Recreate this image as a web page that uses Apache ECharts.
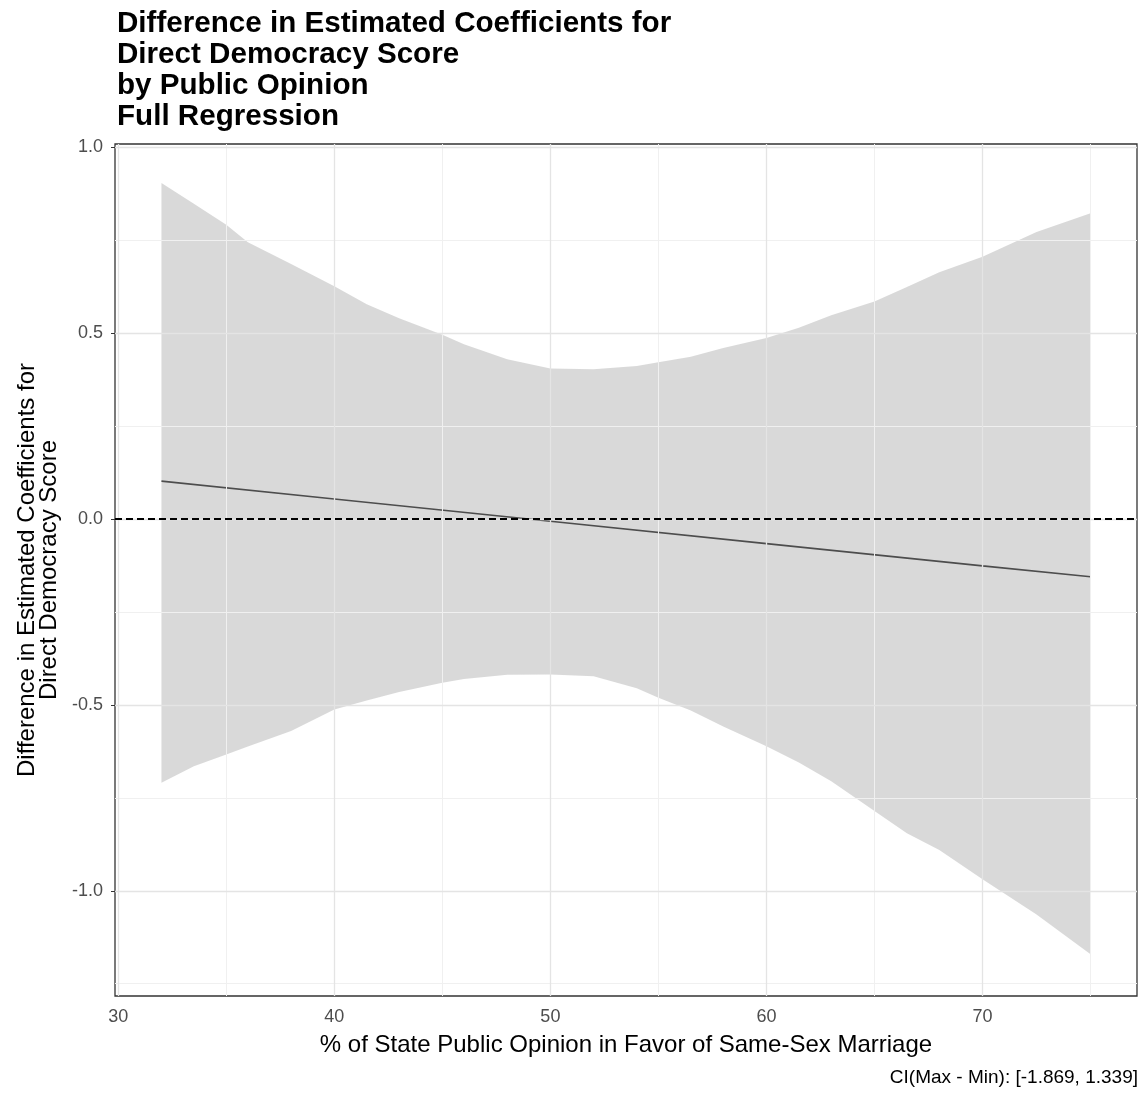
<!DOCTYPE html>
<html><head><meta charset="utf-8">
<script src="https://cdn.jsdelivr.net/npm/echarts@6/dist/echarts.min.js"></script>
<style>html,body{margin:0;padding:0;background:#fff}#c{width:1145px;height:1095px}</style>
</head><body><div id="c"></div>
<script>
// ---- data ----
const bandX   = [32, 33.5, 35, 36, 38, 40, 41.5, 43, 45, 46, 48, 50, 52, 54, 55, 56.5, 58, 60, 61.5, 63, 65, 66.5, 68, 70, 72.5, 75];
const upperCI = [0.904, 0.848, 0.792, 0.745, 0.686, 0.626, 0.578, 0.540, 0.496, 0.470, 0.430, 0.405, 0.403, 0.412, 0.422, 0.437, 0.460, 0.487, 0.515, 0.548, 0.585, 0.624, 0.664, 0.706, 0.772, 0.823];
const lowerCI = [-0.709, -0.665, -0.633, -0.612, -0.570, -0.512, -0.488, -0.465, -0.440, -0.430, -0.419, -0.418, -0.423, -0.455, -0.481, -0.515, -0.558, -0.611, -0.655, -0.705, -0.785, -0.845, -0.890, -0.969, -1.064, -1.171];
const lineX   = [32, 40, 50, 60, 70, 75];
const lineY   = [0.102, 0.054, -0.006, -0.066, -0.126, -0.155];
const refY    = 0;
const xTicks  = [30, 40, 50, 60, 70];
const xMinor  = [35, 45, 55, 65, 75];
const yTicks  = [-1.0, -0.5, 0.0, 0.5, 1.0];
const yMinor  = [-1.25, -0.75, -0.25, 0.25, 0.75];
const titleText = 'Difference in Estimated Coefficients for\nDirect Democracy Score\nby Public Opinion\nFull Regression';
const xTitle = '% of State Public Opinion in Favor of Same-Sex Marriage';
const yTitle = 'Difference in Estimated Coefficients for\nDirect Democracy Score';
const caption = 'CI(Max - Min): [-1.869, 1.339]';

const FONT = '"Liberation Sans", Arial, Helvetica, sans-serif';
const chart = echarts.init(document.getElementById('c'), null, {renderer: 'canvas'});

const bandPts = bandX.map((x, i) => [x, upperCI[i], lowerCI[i]]);

chart.setOption({
  animation: false,
  backgroundColor: '#ffffff',
  textStyle: {fontFamily: FONT},
  title: {
    text: titleText, left: 112, top: 3,
    textStyle: {fontFamily: FONT, fontSize: 29.6, fontWeight: 'bold', color: '#000', lineHeight: 31}
  },
  graphic: [{
    type: 'text', right: 7, top: 1068,
    style: {text: caption, font: '19px ' + FONT, fill: '#000', textAlign: 'right'}
  }],
  grid: {left: 115, right: 8, top: 144, bottom: 99, show: true, borderColor: '#333333', borderWidth: 1.3, backgroundColor: 'transparent', containLabel: false},
  xAxis: {
    type: 'value', min: 29.85, max: 77.15,
    name: xTitle, nameLocation: 'middle', nameGap: 37,
    nameTextStyle: {fontFamily: FONT, fontSize: 24, color: '#000'},
    axisLine: {show: false},
    axisTick: {show: true, length: 4, lineStyle: {color: '#333'}, customValues: xTicks},
    axisLabel: {show: true, margin: 12, fontSize: 18, color: '#4d4d4d', fontFamily: FONT, customValues: xTicks, formatter: v => String(v)},
    splitLine: {show: false}
  },
  yAxis: {
    type: 'value', min: -1.283, max: 1.009,
    name: yTitle, nameLocation: 'middle', nameGap: 54, nameRotate: 90,
    nameTextStyle: {fontFamily: FONT, fontSize: 24, color: '#000', lineHeight: 22, align: 'center'},
    axisLine: {show: false},
    axisTick: {show: true, length: 4, lineStyle: {color: '#333'}, customValues: yTicks},
    axisLabel: {show: true, margin: 12, fontSize: 18, color: '#4d4d4d', fontFamily: FONT, customValues: yTicks, formatter: v => v.toFixed(1)},
    splitLine: {show: false}
  },
  series: [
    {
      type: 'line', data: [], silent: true, z: 1,
      markLine: {
        silent: true, symbol: 'none', label: {show: false}, animation: false,
        lineStyle: {color: '#f0f0f0', width: 1, type: 'solid'},
        data: [
          ...xMinor.map(v => ({xAxis: v})),
          ...yMinor.map(v => ({yAxis: v}))
        ]
      }
    },
    {
      type: 'line', data: [], silent: true, z: 1,
      markLine: {
        silent: true, symbol: 'none', label: {show: false}, animation: false,
        lineStyle: {color: '#e4e4e4', width: 1.3, type: 'solid'},
        data: [
          ...xTicks.map(v => ({xAxis: v})),
          ...yTicks.map(v => ({yAxis: v}))
        ]
      }
    },
    {
      type: 'custom', z: 2, silent: true,
      data: bandPts,
      encode: {x: 0, y: [1, 2]},
      renderItem: function (params, api) {
        if (params.dataIndex !== 0) return null;
        const up = bandPts.map(p => api.coord([p[0], p[1]]));
        const lo = bandPts.map(p => api.coord([p[0], p[2]])).reverse();
        return {
          type: 'polygon',
          shape: {points: up.concat(lo), smooth: 0},
          style: {fill: 'rgba(153,153,153,0.37)', stroke: null}
        };
      }
    },
    {
      type: 'line', z: 3, silent: true, symbol: 'none',
      data: lineX.map((x, i) => [x, lineY[i]]),
      lineStyle: {color: '#4d4d4d', width: 1.6}
    },
    {
      type: 'line', data: [], silent: true, z: 4,
      markLine: {
        silent: true, symbol: 'none', label: {show: false}, animation: false,
        lineStyle: {color: '#000', width: 1.8, type: [7, 4]},
        data: [{yAxis: refY}]
      }
    }
  ]
});
</script></body></html>
